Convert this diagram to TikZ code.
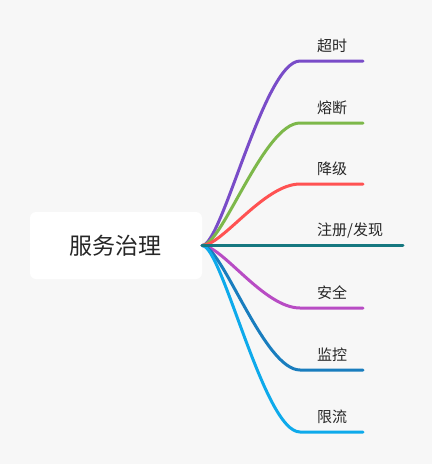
\documentclass[tikz,border=0pt]{standalone}
\usepackage{fontspec}
\setmainfont{Noto Sans CJK SC}
\usepackage{tikz}
\usetikzlibrary{positioning}
\usepackage{xcolor}
\definecolor{mmbg}{RGB}{247,247,247}
\definecolor{mmtext}{RGB}{38,38,38}
\definecolor{mmpurple}{RGB}{121,76,200}
\definecolor{mmgreen}{RGB}{125,184,74}
\definecolor{mmred}{RGB}{255,82,82}
\definecolor{mmteal}{RGB}{22,120,128}
\definecolor{mmmagenta}{RGB}{184,76,196}
\definecolor{mmblue}{RGB}{25,125,190}
\definecolor{mmsky}{RGB}{14,170,235}
\tikzstyle{topic} = [rectangle, rounded corners=6pt, minimum width=172pt, minimum height=67pt, text centered, fill=white, text=mmtext, font=\fontsize{23}{28}\selectfont]
\tikzstyle{subtopic} = [anchor=west, inner sep=0pt, text=mmtext, font=\fontsize{15}{18}\selectfont]
\tikzstyle{branch} = [line width=3pt, line cap=round]

\begin{document}
\begin{tikzpicture}[x=1pt, y=-1pt]
% Background
\fill[mmbg] (0,0) rectangle (432,464);

% Central topic
\node[topic] (root) at (116,245.5) {服务治理};

% Subtopics
\node[subtopic] (timeout) at (317,46) {超时};
\node[subtopic] (breaker) at (317,108) {熔断};
\node[subtopic] (degrade) at (317,169) {降级};
\node[subtopic] (registry) at (317,231) {注册/发现};
\node[subtopic] (security) at (317,293) {安全};
\node[subtopic] (monitor) at (317,355) {监控};
\node[subtopic] (limit) at (317,417) {限流};

% Branch ends
\coordinate (timeoutA) at (300,61);    \coordinate (timeoutB) at (363,61);
\coordinate (breakerA) at (300,123);   \coordinate (breakerB) at (363,123);
\coordinate (degradeA) at (300,184);   \coordinate (degradeB) at (363,184);
\coordinate (registryB) at (403,245.5);
\coordinate (securityA) at (300,308);  \coordinate (securityB) at (363,308);
\coordinate (monitorA) at (300,370);   \coordinate (monitorB) at (363,370);
\coordinate (limitA) at (300,432);     \coordinate (limitB) at (363,432);

% Branches
\draw[branch, mmpurple] (root.east) .. controls +(20,0) and +(-36,0) .. (timeoutA) -- (timeoutB);
\draw[branch, mmgreen] (root.east) .. controls +(20,0) and +(-36,0) .. (breakerA) -- (breakerB);
\draw[branch, mmred] (root.east) .. controls +(20,0) and +(-36,0) .. (degradeA) -- (degradeB);
\draw[branch, mmmagenta] (root.east) .. controls +(20,0) and +(-36,0) .. (securityA) -- (securityB);
\draw[branch, mmblue] (root.east) .. controls +(20,0) and +(-36,0) .. (monitorA) -- (monitorB);
\draw[branch, mmsky] (root.east) .. controls +(20,0) and +(-36,0) .. (limitA) -- (limitB);
\draw[branch, mmteal] (root.east) -- (registryB);
\end{tikzpicture}
\end{document}
